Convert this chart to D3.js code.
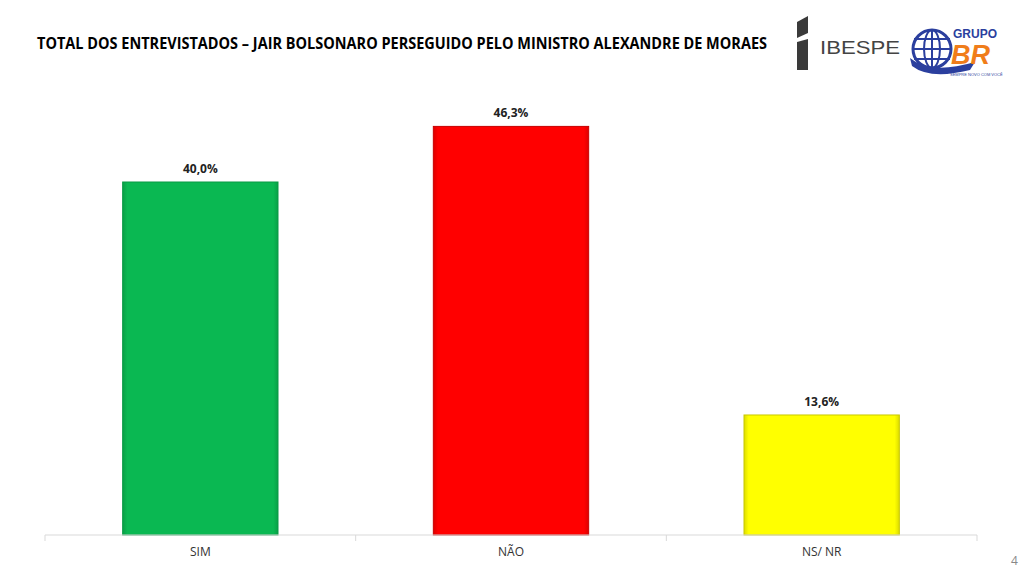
<!DOCTYPE html>
<html><head><meta charset="utf-8">
<script src="https://cdn.jsdelivr.net/npm/d3@7"></script>
<style>body{margin:0;background:#fff;} svg{display:block;}</style>
</head><body>
<svg id="c" width="1024" height="576"></svg>
<script>
const categories = ["SIM", "NÃO", "NS/ NR"];
const values = [40.0, 46.3, 13.6];
const valueLabels = ["40,0%", "46,3%", "13,6%"];
const colors = ["#0ab852", "#ff0000", "#ffff00"];
const strokes = ["#089a44", "#c80000", "#c8c800"];
const title = "TOTAL DOS ENTREVISTADOS – JAIR BOLSONARO PERSEGUIDO PELO MINISTRO ALEXANDRE DE MORAES";

const svg = d3.select("#c");
const font = "'Liberation Sans Narrow','Open Sans',sans-serif";
const left = 45, right = 977, base = 535;
const x = d3.scaleBand().domain(categories).range([left, right]).paddingInner(0.5).paddingOuter(0.25);
const y = d3.scaleLinear().domain([0, 40]).range([base, 182]);

svg.append("text").attr("x", 37).attr("y", 49).attr("font-family", font).attr("font-weight", "bold")
  .attr("font-size", 15.5).attr("fill", "#000").attr("textLength", 730).attr("lengthAdjust", "spacingAndGlyphs").text(title);

const defs = svg.append("defs");
colors.forEach((c, i) => {
  const g = defs.append("linearGradient").attr("id", "g" + i).attr("x1", 0).attr("x2", 1).attr("y1", 0).attr("y2", 0);
  g.append("stop").attr("offset", "0").attr("stop-color", d3.color(c).darker(0.4));
  g.append("stop").attr("offset", "0.03").attr("stop-color", c);
  g.append("stop").attr("offset", "0.97").attr("stop-color", c);
  g.append("stop").attr("offset", "1").attr("stop-color", d3.color(c).darker(0.4));
});

svg.selectAll("rect.bar").data(categories).enter().append("rect").attr("class", "bar")
  .attr("x", d => x(d)).attr("width", x.bandwidth())
  .attr("y", (d, i) => y(values[i])).attr("height", (d, i) => base - y(values[i]))
  .attr("fill", (d, i) => `url(#g${i})`).attr("stroke", (d, i) => strokes[i]).attr("stroke-width", 1);

svg.selectAll("text.val").data(categories).enter().append("text").attr("class", "val")
  .attr("x", d => x(d) + x.bandwidth() / 2).attr("y", (d, i) => y(values[i]) - 9)
  .attr("text-anchor", "middle").attr("font-family", font).attr("font-weight", "bold").attr("font-size", 12)
  .attr("fill", "#222").text((d, i) => valueLabels[i]);

const axis = d3.axisBottom(x).tickSize(0).tickPadding(12);
const ag = svg.append("g").attr("transform", `translate(0,${base})`).call(axis);
ag.select(".domain").attr("stroke", "#d9d9d9").attr("d", `M${left},0H${right}`);
ag.selectAll("text").attr("font-family", font).attr("font-size", 12).attr("fill", "#333");
const bounds = [left, left + (right-left)/3, left + 2*(right-left)/3, right];
ag.selectAll("line.tk").data(bounds).enter().append("line").attr("class", "tk")
  .attr("x1", d => d).attr("x2", d => d).attr("y1", 0).attr("y2", 6).attr("stroke", "#d9d9d9");

svg.append("text").attr("x", 1011).attr("y", 565).attr("font-family", font).attr("font-size", 12).attr("fill", "#888").text("4");

// IBESPE logo
const lg = svg.append("g");
lg.append("path").attr("d", "M797,22 L808,16 L808,33 L797,38 Z").attr("fill", "#3a3a3a");
lg.append("path").attr("d", "M797,42 L808,39 L808,70 L797,70 Z").attr("fill", "#3a3a3a");
lg.append("text").attr("x", 820).attr("y", 54).attr("font-family", "'Liberation Sans',Arial,sans-serif")
  .attr("font-size", 19).attr("fill", "#444").attr("textLength", 80).attr("lengthAdjust", "spacingAndGlyphs").text("IBESPE");

// Grupo BR logo
const bg = svg.append("g");
bg.append("circle").attr("cx", 932).attr("cy", 49).attr("r", 19).attr("fill", "#fff").attr("stroke", "#2b3f9e").attr("stroke-width", 3);
[-10, 0, 10].forEach(d => bg.append("line").attr("x1", 914).attr("x2", 950).attr("y1", 49 + d).attr("y2", 49 + d).attr("stroke", "#2b3f9e").attr("stroke-width", 2));
bg.append("ellipse").attr("cx", 932).attr("cy", 49).attr("rx", 8).attr("ry", 19).attr("fill", "none").attr("stroke", "#2b3f9e").attr("stroke-width", 2);
bg.append("line").attr("x1", 932).attr("x2", 932).attr("y1", 30).attr("y2", 68).attr("stroke", "#2b3f9e").attr("stroke-width", 2);
bg.append("path").attr("d", "M910,58 Q930,75 975,62 L970,70 Q930,80 912,66 Z").attr("fill", "#2b3f9e");
bg.append("text").attr("x", 953).attr("y", 38).attr("font-family", "'Liberation Sans',Arial,sans-serif").attr("font-weight", "bold")
  .attr("font-size", 12).attr("fill", "#2b3f9e").text("GRUPO");
bg.append("text").attr("x", 951).attr("y", 64).attr("font-family", "'Liberation Sans',Arial,sans-serif").attr("font-weight", "bold").attr("font-style", "italic")
  .attr("font-size", 27).attr("fill", "#f07d1a").text("BR");
bg.append("text").attr("x", 950).attr("y", 76).attr("font-family", "'Liberation Sans',Arial,sans-serif")
  .attr("font-size", 4).attr("fill", "#2b3f9e").text("SEMPRE NOVO COM VOCÊ");
</script>
</body></html>
